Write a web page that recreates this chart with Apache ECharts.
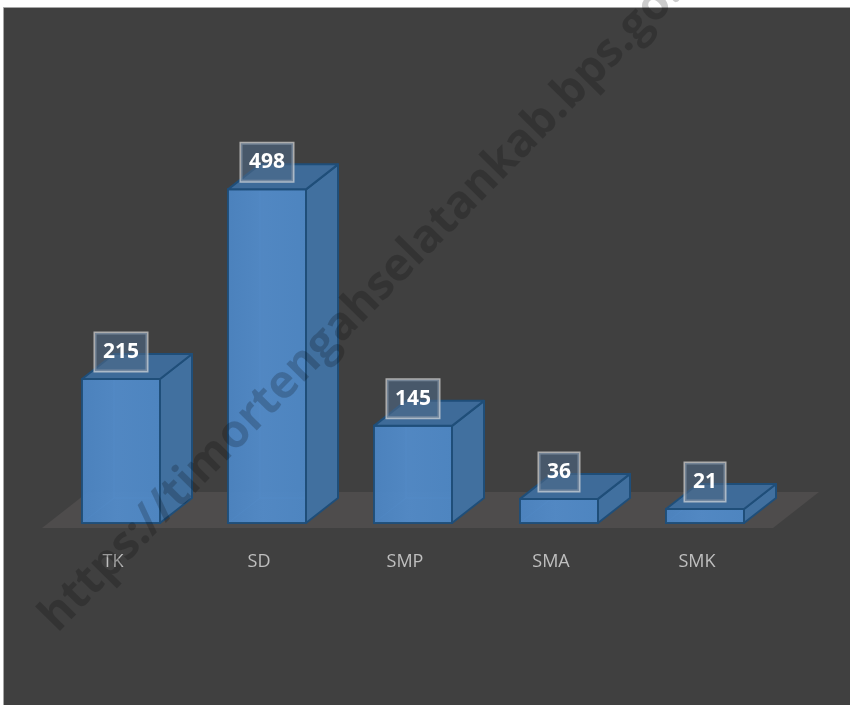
<!DOCTYPE html>
<html>
<head>
<meta charset="utf-8">
<script src="https://cdn.jsdelivr.net/npm/echarts@6/dist/echarts.min.js"></script>
<style>
  html, body { margin: 0; padding: 0; background: #fff; }
  #main { width: 850px; height: 705px; }
</style>
</head>
<body>
<div id="main"></div>
<script>
const categories = ["TK", "SD", "SMP", "SMA", "SMK"];
const values = [215, 498, 145, 36, 21];

const chart = echarts.init(document.getElementById("main"));

// 3d box look: front face + side + top
const barWidth = 78;
const depthX = 32;
const depthY = -25;

function renderBar(params, api) {
  const idx = api.value(0);
  const val = api.value(1);
  const top = api.coord([idx, val]);
  const base = api.coord([idx, 0]);
  const xl = top[0] - barWidth / 2;
  const xr = top[0] + barWidth / 2;
  const ty = top[1];
  const by = base[1];
  const edge = "#1f4e79";
  return {
    type: "group",
    children: [
      // faint hidden edges seen through the glass-like box
      {
        type: "polyline",
        shape: { points: [[xl, by], [xl + depthX, by + depthY], [xr + depthX, by + depthY]] },
        style: { stroke: "rgba(120,170,225,0.5)", lineWidth: 1, fill: null }
      },
      {
        type: "line",
        shape: { x1: xl + depthX, y1: ty + depthY, x2: xl + depthX, y2: by + depthY },
        style: { stroke: "rgba(120,170,225,0.5)", lineWidth: 1 }
      },
      {
        type: "rect",
        shape: { x: xl, y: ty, width: barWidth, height: by - ty },
        style: {
          fill: new echarts.graphic.LinearGradient(0, 0, 1, 0, [
            { offset: 0, color: "#4c85c3" },
            { offset: 0.45, color: "#528bc9" },
            { offset: 1, color: "#4e88c6" }
          ]),
          stroke: edge,
          lineWidth: 2,
          opacity: 0.95
        }
      },
      {
        type: "polygon",
        shape: { points: [[xr, ty], [xr + depthX, ty + depthY], [xr + depthX, by + depthY], [xr, by]] },
        style: { fill: "#41709f", stroke: edge, lineWidth: 2, lineJoin: "round" }
      },
      {
        type: "polygon",
        shape: { points: [[xl, ty], [xl + depthX, ty + depthY], [xr + depthX, ty + depthY], [xr, ty]] },
        style: { fill: "#3e6b99", stroke: edge, lineWidth: 2, lineJoin: "round" }
      },
      {
        type: "text",
        x: top[0],
        y: ty - 27,
        style: {
          text: String(values[idx]),
          fill: "#ffffff",
          font: "bold 21px 'Open Sans', sans-serif",
          align: "center",
          verticalAlign: "middle",
          backgroundColor: "rgba(78,105,135,0.6)",
          borderColor: "rgba(220,220,220,0.7)",
          borderWidth: 1.5,
          padding: [9, 8, 8, 8]
        }
      }
    ]
  };
}

// floor plane under the bars
function renderFloor(params, api) {
  const cs = params.coordSys;
  const y0 = cs.y + cs.height + 5;
  const x0 = cs.x - 6;
  const x1 = cs.x + cs.width - 5;
  return {
    type: "polygon",
    shape: { points: [[x0, y0], [x0 + 46, y0 - 36], [x1 + 46, y0 - 36], [x1, y0]] },
    style: { fill: "#4e4c4c" }
  };
}

chart.setOption({
  backgroundColor: "#ffffff",
  animation: false,
  graphic: [
    {
      type: "rect",
      z: -10,
      shape: { x: 3.5, y: 7.5, width: 860, height: 720 },
      style: { fill: "#404040", stroke: "#a6a6a6", lineWidth: 1 }
    },
    {
      type: "text",
      z: 100,
      x: 376,
      y: 290,
      rotation: 0.795,
      style: {
        text: "https://timortengahselatankab.bps.go.id",
        font: "bold 46px 'Open Sans', sans-serif",
        fill: "rgba(0,0,0,0.2)",
        align: "center",
        verticalAlign: "middle"
      }
    }
  ],
  grid: { left: 48, width: 730, top: 188, bottom: 182 },
  xAxis: {
    type: "category",
    data: categories,
    axisLine: { show: false },
    axisTick: { show: false },
    axisLabel: {
      color: "#bfbfbf",
      fontSize: 18,
      fontFamily: "'Open Sans', sans-serif",
      margin: 30,
      padding: [0, 16, 0, 0]
    }
  },
  yAxis: {
    type: "value",
    min: 0,
    max: 500,
    show: false,
    splitLine: { show: false }
  },
  series: [
    {
      type: "custom",
      z: 1,
      renderItem: renderFloor,
      data: [[0, 0]],
      silent: true
    },
    {
      type: "custom",
      z: 2,
      renderItem: renderBar,
      data: values.map((v, i) => [i, v])
    }
  ]
});
</script>
</body>
</html>
